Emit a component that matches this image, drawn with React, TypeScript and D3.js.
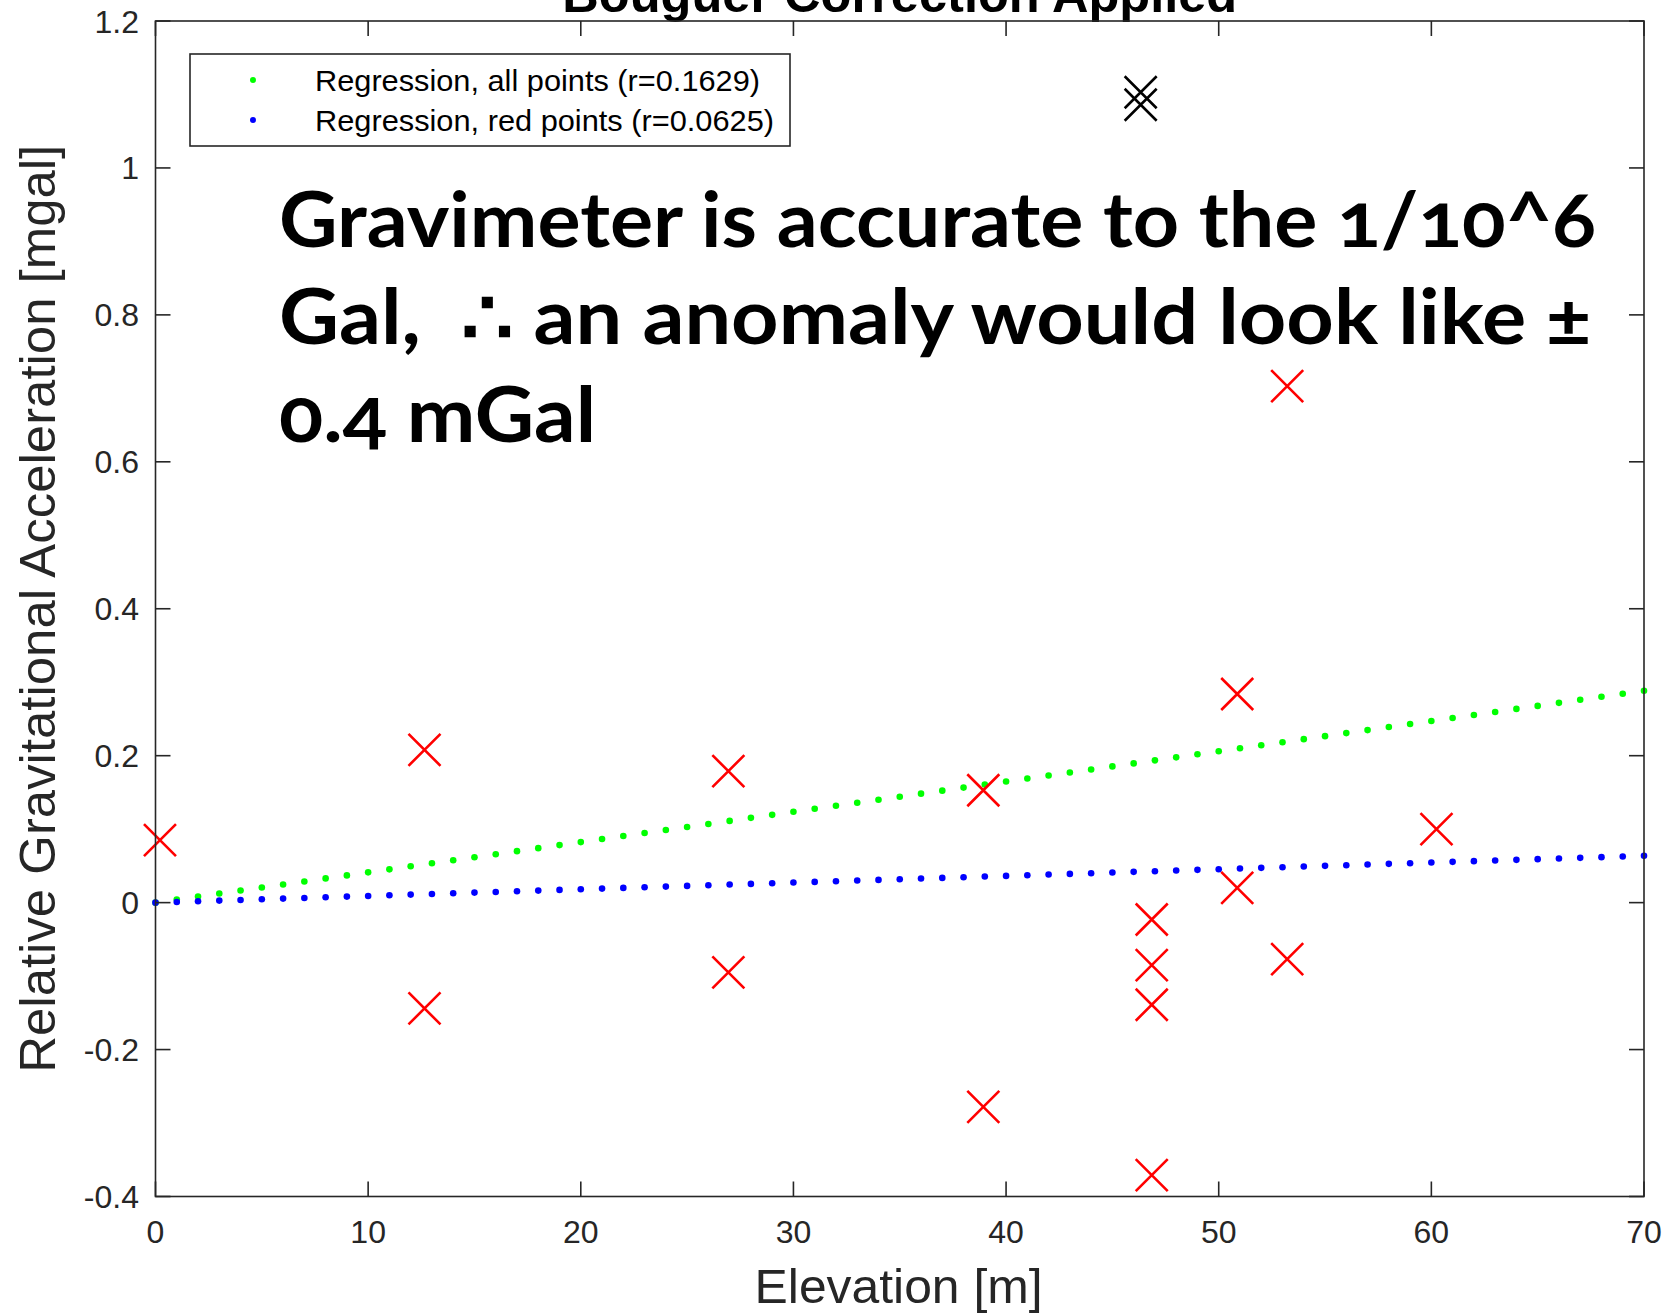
import React from 'react';
import * as d3 from 'd3';

// Station measurements after Bouguer correction
const elevation = [0.21, 12.65, 12.65, 26.94, 26.94, 38.93, 38.93, 46.85, 46.85, 46.85, 46.85, 50.87, 50.87, 53.22, 53.22, 60.24];
const gravity = [0.085, 0.208, -0.144, 0.179, -0.095, 0.153, -0.278, -0.023, -0.085, -0.139, -0.371, 0.284, 0.02, 0.703, -0.077, 0.1];

// Excluded readings (drawn in black)
const outlierElevation = [46.33, 46.33];
const outlierGravity = [1.103, 1.086];

// Regression slopes (lines through the origin)
const slopeAll = 0.00412;
const slopeRed = 0.00091;
const fitElevation = d3.range(0, 71, 1);

const xTicks = [0, 10, 20, 30, 40, 50, 60, 70];
const yTicks = [-0.4, -0.2, 0, 0.2, 0.4, 0.6, 0.8, 1, 1.2];

const legendLabels = ['Regression, all points (r=0.1629)', 'Regression, red points (r=0.0625)'];
const legendColors = ['#00ff00', '#0000ff'];

const titleText = 'Bouguer Correction Applied';
const xLabel = 'Elevation [m]';
const yLabel = 'Relative Gravitational Acceleration [mgal]';
const noteLines = ['Gravimeter is accurate to the 1/10^6', 'Gal,  \u2234 an anomaly would look like \u00b1', '0.4 mGal'];

const W = 1672;
const H = 1313;
const plot = { left: 155.5, right: 1644, top: 21, bottom: 1196.5 };
const axisColor = '#262626';
const font = '"Liberation Sans", Arial, Helvetica, sans-serif';
const noteWidths = [1317, 1312, 317];
const legendWidths = [445, 459];

export default function App() {
  const x = d3.scaleLinear().domain([0, 70]).range([plot.left, plot.right]);
  const y = d3.scaleLinear().domain([-0.4, 1.2]).range([plot.bottom, plot.top]);
  const tickLen = 15;
  const ms = 16;

  const cross = (cx: number, cy: number) =>
    `M${cx - ms},${cy - ms}L${cx + ms},${cy + ms}M${cx - ms},${cy + ms}L${cx + ms},${cy - ms}`;

  return (
    <svg width={W} height={H} style={{ position: 'absolute', left: 0, top: 0, background: '#fff' }} fontFamily={font}>
      <rect x={0} y={0} width={W} height={H} fill="#fff" />

      {/* Title, partly above the page edge */}
      <text x={(plot.left + plot.right) / 2} y={12} textAnchor="middle" fontSize={50} fontWeight="bold" fill="#000"
        textLength={675} lengthAdjust="spacingAndGlyphs">{titleText}</text>

      {/* Regression lines as dots */}
      <g fill={legendColors[0]}>
        {fitElevation.map((e) => (
          <circle key={'g' + e} cx={x(e)} cy={y(slopeAll * e)} r={3.3} />
        ))}
      </g>
      <g fill={legendColors[1]}>
        {fitElevation.map((e) => (
          <circle key={'b' + e} cx={x(e)} cy={y(slopeRed * e)} r={3.3} />
        ))}
      </g>

      {/* Measurements */}
      <g stroke="#ff0000" strokeWidth={2.6} fill="none">
        {elevation.map((e, i) => (
          <path key={'r' + i} d={cross(x(e), y(gravity[i]))} />
        ))}
      </g>
      <g stroke="#000" strokeWidth={2.6} fill="none">
        {outlierElevation.map((e, i) => (
          <path key={'k' + i} d={cross(x(e), y(outlierGravity[i]))} />
        ))}
      </g>

      {/* Axes box and ticks */}
      <rect x={plot.left} y={plot.top} width={plot.right - plot.left} height={plot.bottom - plot.top}
        fill="none" stroke={axisColor} strokeWidth={1.6} />
      <g stroke={axisColor} strokeWidth={1.6}>
        {xTicks.map((t) => (
          <g key={'xt' + t}>
            <line x1={x(t)} x2={x(t)} y1={plot.bottom} y2={plot.bottom - tickLen} />
            <line x1={x(t)} x2={x(t)} y1={plot.top} y2={plot.top + tickLen} />
          </g>
        ))}
        {yTicks.map((t) => (
          <g key={'yt' + t}>
            <line x1={plot.left} x2={plot.left + tickLen} y1={y(t)} y2={y(t)} />
            <line x1={plot.right} x2={plot.right - tickLen} y1={y(t)} y2={y(t)} />
          </g>
        ))}
      </g>
      <g fill={axisColor} fontSize={32}>
        {xTicks.map((t) => (
          <text key={'xl' + t} x={x(t)} y={1243} textAnchor="middle">{String(t)}</text>
        ))}
        {yTicks.map((t) => (
          <text key={'yl' + t} x={139} y={y(t) + 11.5} textAnchor="end">{String(t)}</text>
        ))}
      </g>

      {/* Axis labels */}
      <text x={898.6} y={1303} textAnchor="middle" fontSize={48} fill={axisColor}
        textLength={288} lengthAdjust="spacingAndGlyphs">{xLabel}</text>
      <text transform={`translate(55,${(plot.top + plot.bottom) / 2}) rotate(-90)`} textAnchor="middle" fontSize={50}
        fill={axisColor} textLength={928} lengthAdjust="spacingAndGlyphs">{yLabel}</text>

      {/* Legend */}
      <rect x={190} y={54} width={600} height={92} fill="#fff" stroke={axisColor} strokeWidth={1.6} />
      {legendLabels.map((label, i) => (
        <g key={'lg' + i}>
          <circle cx={253} cy={80 + i * 40} r={3} fill={legendColors[i]} />
          <text x={315} y={91 + i * 40} fontSize={29} fill="#000"
            textLength={legendWidths[i]} lengthAdjust="spacingAndGlyphs">{label}</text>
        </g>
      ))}

      {/* Annotation */}
      <g fontFamily='Lato, "Open Sans", "Noto Sans", sans-serif' fontWeight="bold" fontSize={76} fill="#000"
        style={{ fontVariantNumeric: 'oldstyle-nums', fontFeatureSettings: '"onum" 1' }}>
        {noteLines.map((line, i) => (
          <text key={'n' + i} x={279} y={246.7 + i * 97.5} xmlSpace="preserve" style={{ whiteSpace: 'pre' }}
            textLength={noteWidths[i]} lengthAdjust="spacingAndGlyphs">{line}</text>
        ))}
      </g>
    </svg>
  );
}
